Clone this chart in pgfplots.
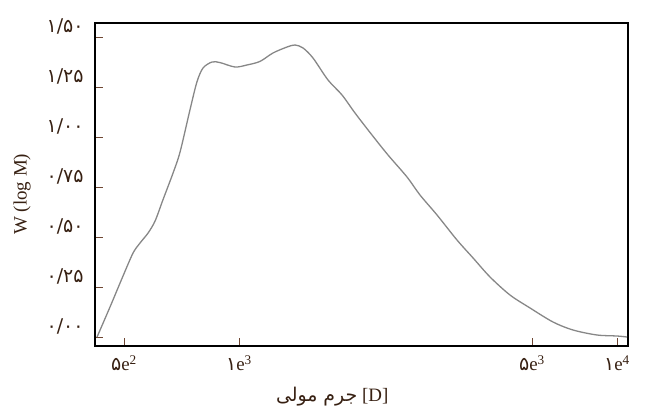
\documentclass[border=0pt]{standalone}
\usepackage{fontspec}
\setmainfont{Liberation Serif}
\newfontfamily\arabicfont[Script=Arabic]{DejaVu Sans}
\TeXXeTstate=1
\usepackage{pgfplots}
\pgfplotsset{compat=1.18}
\definecolor{txt}{RGB}{55,32,18}
\definecolor{tk}{RGB}{110,70,50}
\definecolor{curvecol}{RGB}{135,135,135}
\begin{document}
\begin{tikzpicture}
\useasboundingbox (-95bp,-66bp) rectangle (554bp,346bp);
\begin{axis}[
  at={(0,0)}, anchor=south west,
  scale only axis, width=533bp, height=323bp,
  xmode=log, xmin=419.8, xmax=10431, ymin=-0.045, ymax=1.57,
  axis line style={line width=2.2bp, black},
  xtick={500,1000,5848,9761},
  xticklabels={{\arabicfont ۵}e\textsuperscript{2},{\arabicfont ۱}e\textsuperscript{3},{\arabicfont ۵}e\textsuperscript{3},{\arabicfont ۱}e\textsuperscript{4}},
  minor xtick={},
  ytick={0,0.25,0.5,0.75,1,1.25,1.5},
  yticklabels={{\arabicfont ۰/۰۰},{\arabicfont ۰/۲۵},{\arabicfont ۰/۵۰},{\arabicfont ۰/۷۵},{\arabicfont ۱/۰۰},{\arabicfont ۱/۲۵},{\arabicfont ۱/۵۰}},
  tick align=inside, xtick pos=bottom, ytick pos=left,
  major tick length=8bp,
  tick style={tk, line width=0.8bp},
  ticklabel style={font=\fontsize{19}{21}\selectfont, text=txt},
  xticklabel style={yshift=-6bp},
  yticklabel style={yshift=11bp, xshift=-8bp},
  xlabel={{\arabicfont\beginR جرم مولی\endR} [D]},
  ylabel={W (log M)},
  label style={font=\fontsize{19}{21}\selectfont, text=txt},
  xlabel style={at={(axis description cs:0.445,-0.158)}, anchor=center},
  ylabel style={at={(axis description cs:-0.137,0.47)}, anchor=center},
]
\addplot[curvecol, line width=1.3bp, smooth] table {
x y
425 0
459.5 0.15
497 0.305
528 0.42
550.7 0.47
578 0.52
603 0.58
632 0.685
672 0.82
701 0.925
744 1.135
776 1.275
805 1.345
850 1.375
892 1.372
976 1.35
1049 1.36
1135 1.378
1227 1.42
1336 1.45
1402 1.46
1471 1.445
1562 1.395
1710 1.285
1861 1.21
2012 1.12
2229 1.01
2455 0.91
2753 0.80
2977 0.71
3299 0.61
3721 0.485
4100 0.395
4541 0.30
5121 0.21
5779 0.145
6637 0.075
7487 0.035
8652 0.01
9761 0.005
10368 0.0
};
\end{axis}
\end{tikzpicture}
\end{document}
